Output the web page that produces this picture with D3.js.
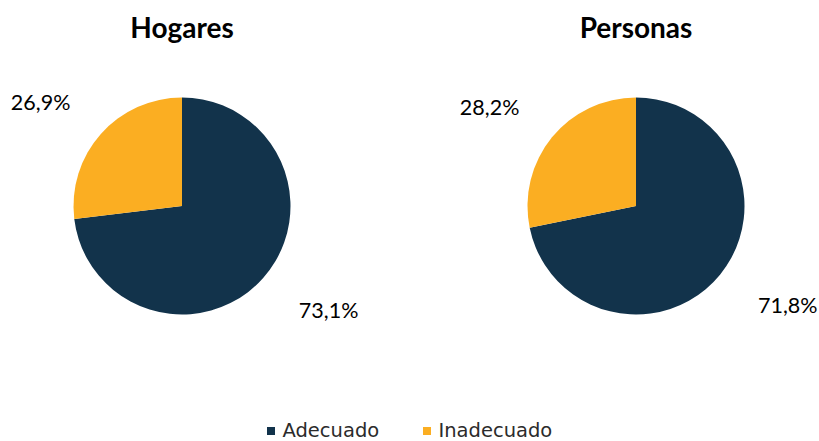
<!DOCTYPE html>
<html>
<head>
<meta charset="utf-8">
<script src="https://d3js.org/d3.v7.min.js"></script>
<style>
  body { margin: 0; background: #fff; }
</style>
</head>
<body>
<svg id="chart" width="819" height="441"></svg>
<script>
  // data
  const categories = ["Adecuado", "Inadecuado"];
  const groups = ["Hogares", "Personas"];
  const hogaresValues = [73.1, 26.9];
  const personasValues = [71.8, 28.2];
  const colors = ["#12334b", "#fbae22"];

  const svg = d3.select("svg#chart");
  const radius = 108.5;
  const centers = [{x: 182, y: 206}, {x: 636, y: 206}];
  const seriesList = [hogaresValues, personasValues];

  const colorScale = d3.scaleOrdinal().domain(categories).range(colors);
  const fmt = v => d3.format(".1f")(v).replace(".", ",") + "%";

  const pie = d3.pie().sort(null).value(d => d.value);
  const arc = d3.arc().innerRadius(0).outerRadius(radius);

  groups.forEach((g, i) => {
    const data = categories.map((c, j) => ({cat: c, value: seriesList[i][j]}));
    const arcs = pie(data);
    const chartArea = svg.append("g")
      .attr("transform", `translate(${centers[i].x}, ${centers[i].y})`);

    chartArea.selectAll("path")
      .data(arcs)
      .join("path")
      .attr("d", arc)
      .attr("fill", d => colorScale(d.data.cat));

    // title
    chartArea.append("text")
      .attr("x", 0)
      .attr("y", -168)
      .attr("text-anchor", "middle")
      .attr("font-family", "Lato, sans-serif")
      .attr("font-weight", "bold")
      .attr("font-size", 28)
      .attr("fill", "#000")
      .text(g);

    // labels outside the slices (outside end, like excel)
    chartArea.selectAll("text.lbl")
      .data(arcs)
      .join("text")
      .attr("class", "lbl")
      .attr("transform", d => {
        const a = (d.startAngle + d.endAngle) / 2;
        const rx = d.index === 0 ? 196 : 189;
        const ry = 157;
        return `translate(${Math.sin(a) * rx}, ${-Math.cos(a) * ry})`;
      })
      .attr("text-anchor", "middle")
      .attr("dominant-baseline", "central")
      .attr("font-family", "Lato, sans-serif")
      .attr("font-size", 21.5)
      .attr("fill", "#000")
      .text(d => fmt(d.data.value));
  });

  // legend
  const legendX = d3.scaleOrdinal().domain(categories).range([267, 423]);
  const legend = svg.append("g");
  categories.forEach(c => {
    legend.append("rect")
      .attr("x", legendX(c))
      .attr("y", 427)
      .attr("width", 8)
      .attr("height", 8)
      .attr("fill", colorScale(c));
    legend.append("text")
      .attr("x", legendX(c) + 15.5)
      .attr("y", 436.5)
      .attr("font-family", "'DejaVu Sans', sans-serif")
      .attr("font-size", 19.5)
      .attr("fill", "#2b2b2b")
      .text(c);
  });
</script>
</body>
</html>
